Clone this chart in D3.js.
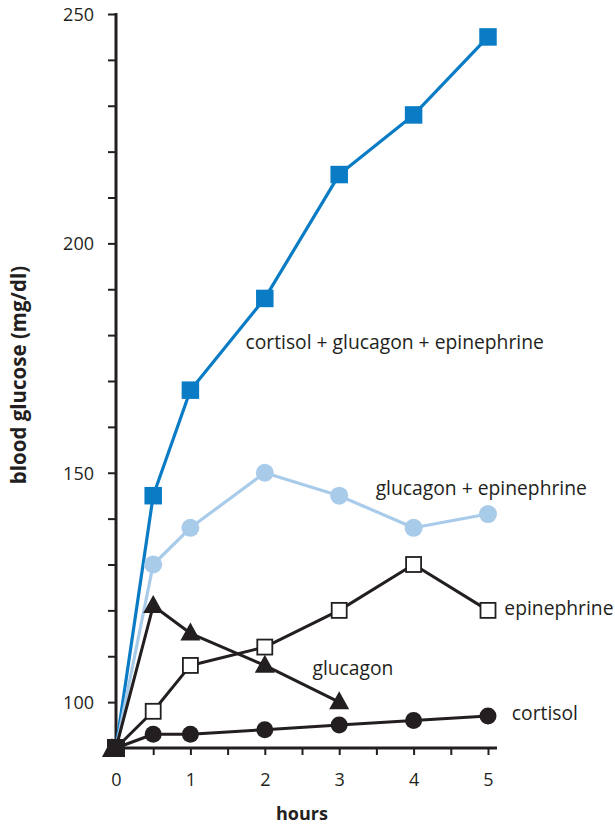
<!DOCTYPE html>
<html><head><meta charset="utf-8">
<script src="https://cdn.jsdelivr.net/npm/d3@7"></script>
<style>body{margin:0;background:#fff}svg{display:block}text{font-family:"Open Sans",sans-serif;fill:#231f20}</style>
</head><body><svg id="c" width="615" height="825"></svg>
<script>
const hours = [0, 0.5, 1, 2, 3, 4, 5];
const hoursGlucagon = [0, 0.5, 1, 2, 3];
const allThree = [90, 145, 168, 188, 215, 228, 245];
const glucEpi = [90, 130, 138, 150, 145, 138, 141];
const epinephrine = [90, 98, 108, 112, 120, 130, 120];
const glucagon = [90, 121, 115, 108, 100];
const cortisol = [90, 93, 93, 94, 95, 96, 97];
const xTicks = [0, 0.5, 1, 1.5, 2, 2.5, 3, 3.5, 4, 4.5, 5];
const xLabels = [0, 1, 2, 3, 4, 5];
const yTicks = [100, 110, 120, 130, 140, 150, 160, 170, 180, 190, 200, 210, 220, 230, 240, 250];
const yLabels = [100, 150, 200, 250];
const labels = [
  {text: "cortisol + glucagon + epinephrine", x: 1.74, y: 177},
  {text: "glucagon + epinephrine", x: 3.49, y: 145.2},
  {text: "epinephrine", x: 5.22, y: 119},
  {text: "glucagon", x: 2.64, y: 106},
  {text: "cortisol", x: 5.32, y: 96}
];

const svg = d3.select("#c");
const x = d3.scaleLinear().domain([0, 5]).range([116, 488]);
const y = d3.scaleLinear().domain([90, 250]).range([748, 14]);
const ink = "#231f20";

// axes
const yAxis = svg.append("g").attr("transform", `translate(${x(0)},0)`)
  .call(d3.axisLeft(y).tickValues(yTicks).tickSize(8).tickFormat(d => yLabels.includes(d) ? d : ""));
const xAxis = svg.append("g").attr("transform", `translate(0,${y(90)})`)
  .call(d3.axisBottom(x).tickValues(xTicks).tickSize(7).tickFormat(d => xLabels.includes(d) ? d : ""));
[yAxis, xAxis].forEach(g => {
  g.select(".domain").remove();
  g.selectAll(".tick line").attr("stroke", ink).attr("stroke-width", 2);
  g.selectAll(".tick text").attr("font-size", 18).attr("fill", ink).style("font-family", "Open Sans");
});
yAxis.selectAll(".tick text").attr("x", -22).attr("dy", "0.35em");
xAxis.selectAll(".tick text").attr("y", 25).attr("dy", "0.71em");
svg.append("line").attr("x1", x(0)).attr("x2", x(0)).attr("y1", y(250) - 1).attr("y2", y(90))
  .attr("stroke", ink).attr("stroke-width", 3);
svg.append("line").attr("x1", x(0) - 1).attr("x2", x(5) + 9).attr("y1", y(90)).attr("y2", y(90))
  .attr("stroke", ink).attr("stroke-width", 3);

svg.append("text").attr("x", 302).attr("y", 820).attr("text-anchor", "middle")
  .attr("font-size", 18).attr("font-weight", "bold").text("hours");
svg.append("text").attr("transform", "translate(26,375) rotate(-90)").attr("text-anchor", "middle")
  .attr("font-size", 20.5).attr("font-weight", "bold").text("blood glucose (mg/dl)");

const line = d3.line().x(d => x(d[0])).y(d => y(d[1]));
function series(xs, ys, color, width, marker, fill, size) {
  const pts = xs.map((h, i) => [h, ys[i]]);
  svg.append("path").attr("d", line(pts)).attr("fill", "none").attr("stroke", color)
    .attr("stroke-width", width).attr("stroke-linejoin", "round");
  const g = svg.append("g");
  pts.slice(1).forEach(p => {
    const cx = x(p[0]), cy = y(p[1]);
    if (marker === "square") {
      g.append("rect").attr("x", cx - size / 2).attr("y", cy - size / 2).attr("width", size).attr("height", size)
        .attr("fill", fill).attr("stroke", color).attr("stroke-width", fill === "#fff" ? 1.8 : 0);
    } else if (marker === "circle") {
      g.append("circle").attr("cx", cx).attr("cy", cy).attr("r", size / 2).attr("fill", fill);
    } else {
      const h = size * 0.9;
      g.append("path").attr("d", `M${cx},${cy - h * 0.6}L${cx + size / 2},${cy + h * 0.4}L${cx - size / 2},${cy + h * 0.4}Z`).attr("fill", fill);
    }
  });
}
series(hours, allThree, "#0a7cc5", 3.2, "square", "#0a7cc5", 17.5);
series(hours, glucEpi, "#a9cbea", 3.2, "circle", "#a9cbea", 18);
series(hours, epinephrine, ink, 3, "square", "#fff", 15);
series(hoursGlucagon, glucagon, ink, 3, "triangle", ink, 20);
series(hours, cortisol, ink, 3, "circle", ink, 17);

// shared starting point
svg.append("path").attr("d", `M${x(0) - 4},${y(90) - 10}L${x(0) + 6},${y(90) + 9}L${x(0) - 14},${y(90) + 9}Z`).attr("fill", ink);
svg.append("rect").attr("x", x(0) - 9).attr("y", y(90) - 9).attr("width", 18).attr("height", 18).attr("fill", ink);

labels.forEach(l => {
  svg.append("text").attr("x", x(l.x)).attr("y", y(l.y)).attr("font-size", 19.3).text(l.text);
});
</script></body></html>
